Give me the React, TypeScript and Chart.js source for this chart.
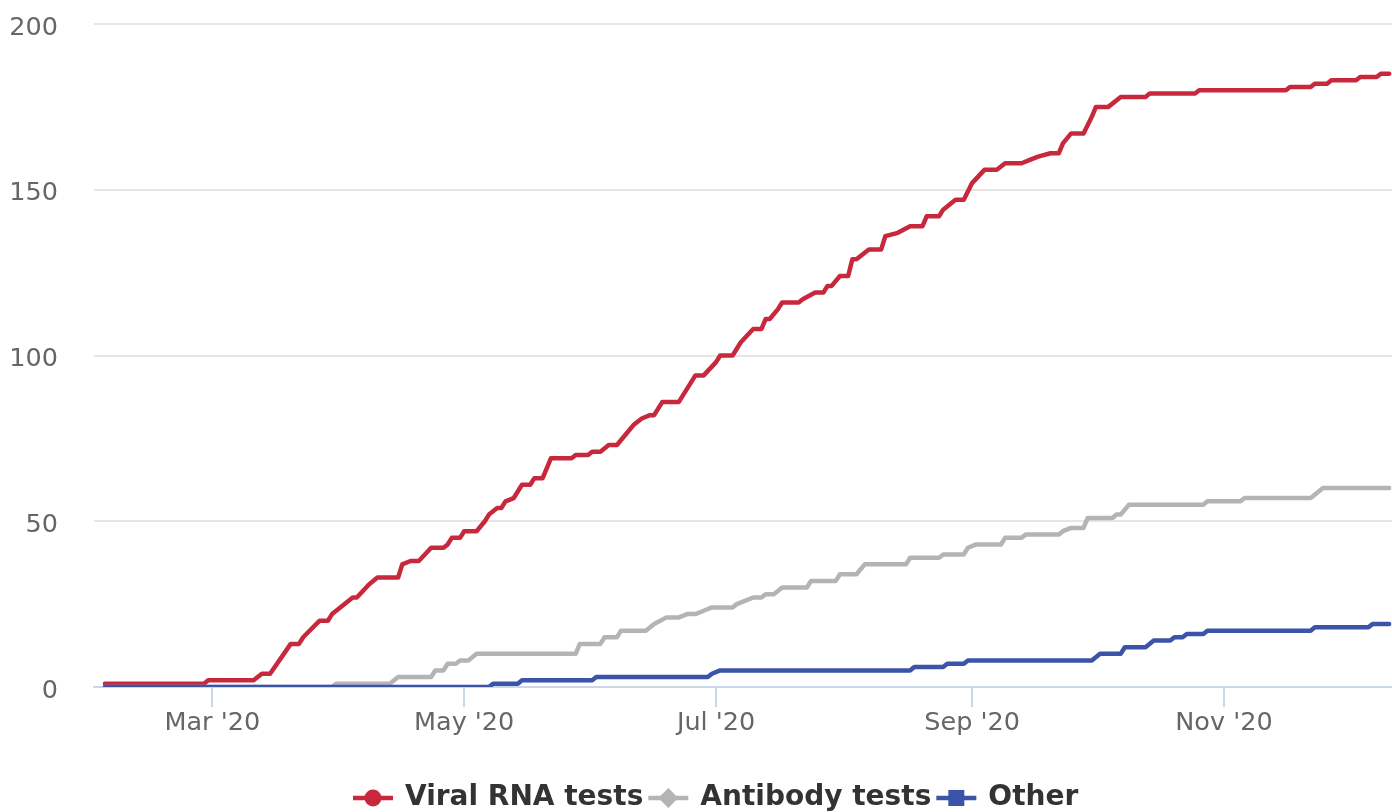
import React, { useEffect, useRef } from "react";
import { Chart, registerables } from "chart.js";

Chart.register(...registerables);

// x values are days of 2020 (0 = 1 Jan 2020); y values are cumulative counts
const viralDays = [34, 58, 59, 70, 72, 74, 79, 81, 82, 86, 88, 89, 90, 94, 95, 98, 100, 105, 106, 108, 110, 113, 116, 117, 118, 120, 121, 124, 126, 127, 129, 130, 131, 133, 135, 137, 138, 140, 142, 147, 148, 151, 152, 154, 156, 158, 160, 162, 164, 166, 167, 169, 173, 175, 177, 179, 182, 183, 186, 188, 191, 193, 194, 195, 197, 198, 202, 203, 206, 208, 209, 210, 212, 214, 215, 216, 219, 222, 223, 226, 229, 232, 233, 236, 237, 240, 242, 244, 247, 250, 252, 256, 258, 260, 263, 265, 266, 268, 271, 273, 274, 277, 280, 286, 287, 298, 299, 320, 321, 326, 327, 330, 331, 337, 338, 342, 343, 345];
const viralTotals = [1, 1, 2, 2, 4, 4, 13, 13, 15, 20, 20, 22, 23, 27, 27, 31, 33, 33, 37, 38, 38, 42, 42, 43, 45, 45, 47, 47, 50, 52, 54, 54, 56, 57, 61, 61, 63, 63, 69, 69, 70, 70, 71, 71, 73, 73, 76, 79, 81, 82, 82, 86, 86, 90, 94, 94, 98, 100, 100, 104, 108, 108, 111, 111, 114, 116, 116, 117, 119, 119, 121, 121, 124, 124, 129, 129, 132, 132, 136, 137, 139, 139, 142, 142, 144, 147, 147, 152, 156, 156, 158, 158, 159, 160, 161, 161, 164, 167, 167, 172, 175, 175, 178, 178, 179, 179, 180, 180, 181, 181, 182, 182, 183, 183, 184, 184, 185, 185];

const antibodyDays = [34, 89, 90, 103, 105, 113, 114, 116, 117, 119, 120, 122, 124, 148, 149, 154, 155, 158, 159, 165, 167, 170, 173, 175, 177, 179, 181, 186, 187, 189, 191, 193, 194, 196, 198, 204, 205, 211, 212, 216, 218, 228, 229, 236, 237, 242, 243, 245, 251, 252, 256, 257, 265, 266, 268, 271, 272, 278, 279, 280, 282, 300, 301, 309, 310, 326, 329, 345];
const antibodyTotals = [0, 0, 1, 1, 3, 3, 5, 5, 7, 7, 8, 8, 10, 10, 13, 13, 15, 15, 17, 17, 19, 21, 21, 22, 22, 23, 24, 24, 25, 26, 27, 27, 28, 28, 30, 30, 32, 32, 34, 34, 37, 37, 39, 39, 40, 40, 42, 43, 43, 45, 45, 46, 46, 47, 48, 48, 51, 51, 52, 52, 55, 55, 56, 56, 57, 57, 60, 60];

const otherDays = [34, 127, 128, 134, 135, 152, 153, 180, 181, 183, 229, 230, 237, 238, 242, 243, 273, 275, 280, 281, 286, 288, 292, 293, 295, 296, 300, 301, 326, 327, 340, 341, 345];
const otherTotals = [0, 0, 1, 1, 2, 2, 3, 3, 4, 5, 5, 6, 6, 7, 7, 8, 8, 10, 10, 12, 12, 14, 14, 15, 15, 16, 16, 17, 17, 18, 18, 19, 19];

const seriesNames = ["Viral RNA tests", "Antibody tests", "Other"];
const seriesColors = ["#c8283c", "#b4b4b4", "#3b53a8"];
const seriesMarkers = ["circle", "diamond", "square"];

const monthTickDays = [60, 121, 182, 244, 305];
const monthTickLabels = ["Mar '20", "May '20", "Jul '20", "Sep '20", "Nov '20"];

const zip = (xs: number[], ys: number[]) => xs.map((x, i) => ({ x, y: ys[i] }));

const legendPlugin = {
  id: "hcLegend",
  afterDraw(chart: any) {
    const ctx = chart.ctx as CanvasRenderingContext2D;
    ctx.save();
    ctx.font = 'bold 28px "DejaVu Sans"';
    ctx.textBaseline = "middle";
    const y = 798;
    let x = 353;
    seriesNames.forEach((name, i) => {
      const color = seriesColors[i];
      ctx.strokeStyle = color;
      ctx.lineWidth = 4.5;
      ctx.beginPath();
      ctx.moveTo(x, y);
      ctx.lineTo(x + 40, y);
      ctx.stroke();
      const cx = x + 20;
      ctx.fillStyle = color;
      ctx.beginPath();
      if (seriesMarkers[i] === "circle") {
        ctx.arc(cx, y, 8.5, 0, Math.PI * 2);
      } else if (seriesMarkers[i] === "diamond") {
        ctx.moveTo(cx, y - 10);
        ctx.lineTo(cx + 10, y);
        ctx.lineTo(cx, y + 10);
        ctx.lineTo(cx - 10, y);
        ctx.closePath();
      } else {
        ctx.rect(cx - 8, y - 8, 16, 16);
      }
      ctx.fill();
      x += 40 + 12;
      ctx.fillStyle = "#333333";
      ctx.fillText(name, x, y);
      x += ctx.measureText(name).width + 5;
    });
    ctx.restore();
  },
};

export default function App() {
  const ref = useRef<HTMLCanvasElement | null>(null);
  useEffect(() => {
    document.body.style.margin = "0";
    const canvas = ref.current!;
    const tickFont = { family: '"DejaVu Sans"', size: 25.5 };
    const chart = new Chart(canvas, {
      type: "line",
      data: {
        datasets: [
          { label: seriesNames[0], data: zip(viralDays, viralTotals), borderColor: seriesColors[0], order: 3 },
          { label: seriesNames[1], data: zip(antibodyDays, antibodyTotals), borderColor: seriesColors[1], order: 2 },
          { label: seriesNames[2], data: zip(otherDays, otherTotals), borderColor: seriesColors[2], order: 1 },
        ].map((d) => ({ ...d, borderWidth: 4.5, pointRadius: 0, tension: 0, fill: false, borderJoinStyle: "round" as const, borderCapStyle: "round" as const })),
      },
      options: {
        animation: false,
        responsive: false,
        devicePixelRatio: 1,
        layout: { padding: { top: 24, bottom: 70, left: 0, right: 0 } },
        plugins: { legend: { display: false }, tooltip: { enabled: false } },
        scales: {
          x: {
            type: "linear",
            min: 31.35,
            max: 345.7,
            afterFit: (s: any) => { s.height = 55; s.paddingLeft = 0; s.paddingRight = 0; },
            afterBuildTicks: (s: any) => { s.ticks = monthTickDays.map((v) => ({ value: v })); },
            grid: { display: true, drawOnChartArea: false, drawTicks: true, tickLength: 20, color: "#ccd6eb", lineWidth: 2 },
            border: { display: true, color: "#ccd6eb", width: 2 },
            ticks: {
              autoSkip: false,
              maxRotation: 0,
              padding: 1,
              color: "#666666",
              font: tickFont,
              callback: (v: any) => monthTickLabels[monthTickDays.indexOf(Number(v))] ?? "",
            },
          },
          y: {
            min: 0,
            max: 200,
            afterFit: (s: any) => { s.width = 94; s.paddingTop = 0; s.paddingBottom = 0; },
            grid: { color: "#e6e6e6", lineWidth: 2, drawTicks: false },
            border: { display: false },
            ticks: { stepSize: 50, padding: 36, labelOffset: 4, color: "#666666", font: tickFont },
          },
        },
      },
      plugins: [legendPlugin],
    });
    return () => chart.destroy();
  }, []);
  return <canvas ref={ref} width={1392} height={812} style={{ display: "block" }} />;
}
